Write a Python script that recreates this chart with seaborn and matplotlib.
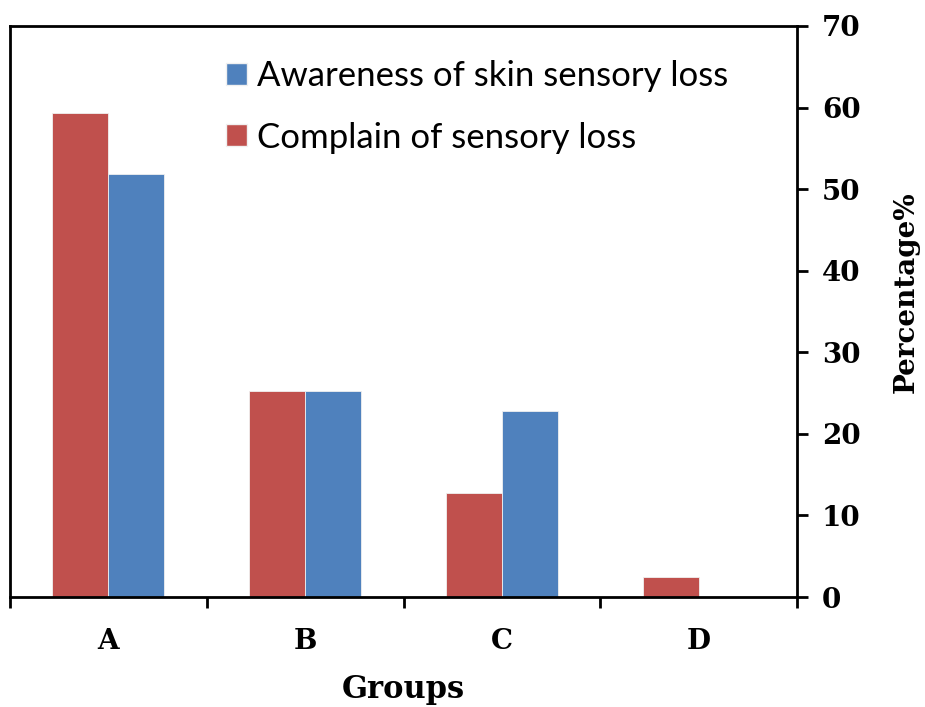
import matplotlib
matplotlib.use("Agg")
import matplotlib.pyplot as plt
import seaborn as sns
import pandas as pd
from matplotlib.patches import Patch

groups = ["A", "B", "C", "D"]
complain = [59.3, 25.2, 12.7, 2.5]
awareness = [51.9, 25.2, 22.8, 0.0]
series_names = ["Complain of sensory loss", "Awareness of skin sensory loss"]
colors = {"Complain of sensory loss": "#C0504D", "Awareness of skin sensory loss": "#4F81BD"}
y_ticks = [0, 10, 20, 30, 40, 50, 60, 70]

df = pd.DataFrame({
    "Group": groups * 2,
    "Series": [series_names[0]] * 4 + [series_names[1]] * 4,
    "Value": complain + awareness,
})

sns.set_style("white")
fig = plt.figure(figsize=(9.25, 7.07), dpi=100)
ax = fig.add_axes([10/925, 1-597/707, 787/925, 571/707])

sns.barplot(data=df, x="Group", y="Value", hue="Series", hue_order=series_names,
            order=groups, palette=colors, width=0.57, saturation=1,
            edgecolor="#f0f0f0", linewidth=0.6, ax=ax, legend=False)

serif = "DejaVu Serif"
ax.set_xlim(-0.5, 3.5)
ax.set_ylim(0, 70)
ax.yaxis.tick_right()
ax.yaxis.set_label_position("right")
ax.set_yticks(y_ticks)
ax.set_yticklabels([str(v) for v in y_ticks], fontfamily=serif, fontweight="bold", fontsize=20, color="black")
ax.tick_params(axis="y", direction="out", length=8, width=2, pad=10, right=True, left=False, colors="black")

ax.set_xticks(range(4))
ax.set_xticklabels(groups, fontfamily=serif, fontweight="bold", fontsize=20, color="black")
ax.set_xticks([-0.5, 0.5, 1.5, 2.5, 3.5], minor=True)
ax.tick_params(axis="x", which="major", length=0, pad=22, bottom=True)
ax.tick_params(axis="x", which="minor", direction="out", length=8, width=2, bottom=True, colors="black")

for s in ["left", "right", "bottom", "top"]:
    ax.spines[s].set_visible(True)
    ax.spines[s].set_color("black")
    ax.spines[s].set_linewidth(2)

ax.set_xlabel("Groups", fontfamily=serif, fontweight="bold", fontsize=22, labelpad=14, color="black")
ax.set_ylabel("Percentage%", fontfamily=serif, fontweight="bold", fontsize=20, color="black")
ax.yaxis.set_label_coords((893 - 10) / 787, (597 - 292) / 571)

handles = [Patch(facecolor=colors[series_names[1]], edgecolor="#f0f0f0"),
           Patch(facecolor=colors[series_names[0]], edgecolor="#f0f0f0")]
leg = ax.legend(handles, [series_names[1], series_names[0]], loc="upper left",
                bbox_to_anchor=(0.235, 0.995), frameon=False,
                prop={"family": "Lato", "size": 25}, handlelength=0.6, handleheight=0.6,
                handletextpad=0.3, labelspacing=0.85, labelcolor="black")

fig.savefig("out.png", dpi=100)
